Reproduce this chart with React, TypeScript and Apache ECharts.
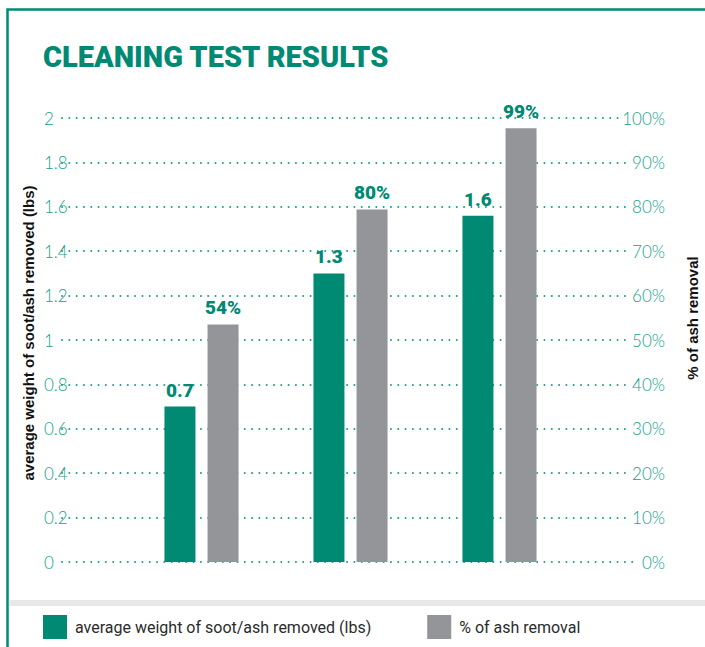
import React, { useEffect, useRef } from "react";
import * as echarts from "echarts";

const categories = ["Test 1", "Test 2", "Test 3"];
const weightValues = [0.7, 1.3, 1.56];
const weightLabels = ["0.7", "1.3", "1.6"];
const ashValues = [53.5, 79.4, 97.7];
const ashLabels = ["54%", "80%", "99%"];
const leftTicks = ["0", "0.2", "0.4", "0.6", "0.8", "1", "1.2", "1.4", "1.6", "1.8", "2"];
const rightTicks = ["0%", "10%", "20%", "30%", "40%", "50%", "60%", "70%", "80%", "90%", "100%"];

const GREEN = "#008a73";
const GRAY = "#939598";
const TICK = "#17a089";

export default function App() {
  const ref = useRef<HTMLDivElement>(null);
  useEffect(() => {
    if (!ref.current) return;
    const chart = echarts.init(ref.current, undefined, { renderer: "svg" });
    const tickStyle = {
      color: TICK,
      fontFamily: "Lato",
      fontWeight: 300 as any,
      fontSize: 17,
    };
    chart.setOption({
      animation: false,
      backgroundColor: "#ffffff",
      grid: [
        { left: 62, right: 70, top: 118, height: 444 },
        { left: 127, right: 131, top: 118, height: 444 },
      ],
      xAxis: [
        { gridIndex: 0, type: "category", data: categories, show: false },
        { gridIndex: 1, type: "category", data: categories, show: false },
      ],
      yAxis: [
        {
          gridIndex: 0,
          type: "value",
          min: 0,
          max: 2,
          interval: 0.2,
          position: "left",
          axisLine: { show: false },
          axisTick: { show: false },
          axisLabel: {
            ...tickStyle,
            align: "left",
            margin: 18,
            formatter: (_v: number, i: number) => leftTicks[i],
          },
          splitLine: {
            show: true,
            lineStyle: { color: TICK, width: 2, type: [0.01, 7.3], cap: "round" },
          },
        },
        {
          gridIndex: 0,
          type: "value",
          min: 0,
          max: 100,
          interval: 10,
          position: "right",
          axisLine: { show: false },
          axisTick: { show: false },
          splitLine: { show: false },
          axisLabel: {
            ...tickStyle,
            align: "right",
            margin: 30,
            backgroundColor: "#ffffff",
            padding: [0, 0, 0, 3],
            formatter: (_v: number, i: number) => rightTicks[i],
          },
        },
        { gridIndex: 1, type: "value", min: 0, max: 2, show: false },
        { gridIndex: 1, type: "value", min: 0, max: 100, show: false },
      ],
      legend: {
        left: 43,
        top: 615,
        padding: 0,
        itemWidth: 24,
        itemHeight: 24,
        itemGap: 56,
        icon: "rect",
        textStyle: {
          fontFamily: "Roboto",
          fontSize: 16,
          color: "#2b2b2b",
          padding: [0, 0, 0, 3],
        },
        data: ["average weight of soot/ash removed (lbs)", "% of ash removal"],
      },
      series: [
        {
          name: "average weight of soot/ash removed (lbs)",
          type: "bar",
          xAxisIndex: 1,
          yAxisIndex: 2,
          data: weightValues,
          barWidth: 31,
          barGap: "39%",
          itemStyle: { color: GREEN },
          label: {
            show: true,
            position: "top",
            distance: 7,
            color: GREEN,
            fontFamily: "Roboto",
            fontWeight: 900,
            fontSize: 19,
            formatter: (p: any) => weightLabels[p.dataIndex],
          },
        },
        {
          name: "% of ash removal",
          type: "bar",
          xAxisIndex: 1,
          yAxisIndex: 3,
          data: ashValues,
          barWidth: 31,
          barGap: "39%",
          itemStyle: { color: GRAY },
          label: {
            show: true,
            position: "top",
            distance: 7,
            color: GREEN,
            fontFamily: "Roboto",
            fontWeight: 900,
            fontSize: 19,
            formatter: (p: any) => ashLabels[p.dataIndex],
          },
        },
      ],
      graphic: [
        {
          type: "rect",
          z: 100,
          shape: { x: 7.5, y: 9.5, width: 760, height: 700 },
          style: { fill: "none", stroke: GREEN, lineWidth: 2.5 },
          silent: true,
        },
        {
          type: "rect",
          shape: { x: 9, y: 600, width: 700, height: 6 },
          style: { fill: "#e6e7e8" },
          silent: true,
        },
        {
          type: "text",
          x: 43,
          y: 57,
          style: {
            text: "CLEANING TEST RESULTS",
            fontFamily: "Roboto",
            fontWeight: 900,
            fontSize: 29,
            fill: GREEN,
            verticalAlign: "middle",
            align: "left",
          },
        },
        {
          type: "text",
          x: 28,
          y: 333,
          rotation: Math.PI / 2,
          style: {
            text: "average weight of soot/ash removed (lbs)",
            fontFamily: "Liberation Sans",
            fontWeight: "bold",
            fontSize: 15,
            fill: "#111111",
            align: "center",
            verticalAlign: "middle",
          },
        },
        {
          type: "text",
          x: 692,
          y: 318,
          rotation: Math.PI / 2,
          style: {
            text: "% of ash removal",
            fontFamily: "Liberation Sans",
            fontWeight: "bold",
            fontSize: 15,
            fill: "#111111",
            align: "center",
            verticalAlign: "middle",
          },
        },
      ],
    });
    return () => chart.dispose();
  }, []);
  return (
    <div
      ref={ref}
      style={{ position: "fixed", left: 0, top: 0, width: 705, height: 647 }}
    />
  );
}
